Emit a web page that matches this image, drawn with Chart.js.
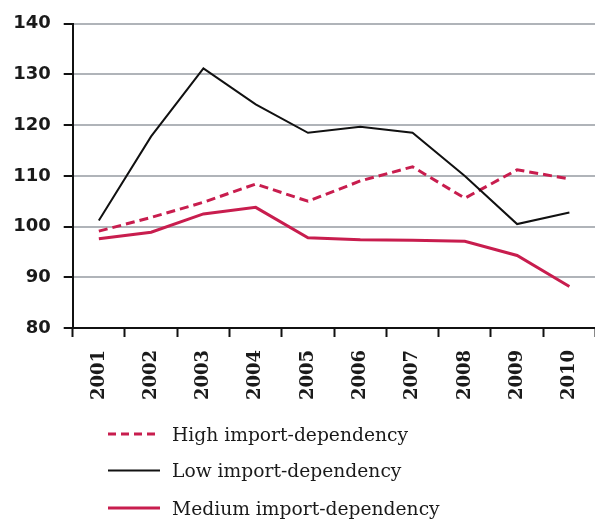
<!DOCTYPE html>
<html>
<head>
<meta charset="utf-8">
<script src="https://cdn.jsdelivr.net/npm/chart.js@4.4.1/dist/chart.umd.min.js"></script>
<style>
  html, body { margin: 0; padding: 0; background: #ffffff; overflow: hidden; }
  #wrap { position: relative; width: 604px; height: 520px; }
</style>
</head>
<body>
<div id="wrap"><canvas id="c"></canvas></div>
<script>
const years = ['2001','2002','2003','2004','2005','2006','2007','2008','2009','2010'];
const highImport = [99.1, 101.8, 104.8, 108.4, 105.0, 109.0, 111.8, 105.6, 111.2, 109.4];
const lowImport = [101.2, 117.8, 131.2, 124.1, 118.5, 119.7, 118.5, 110.0, 100.5, 102.8];
const mediumImport = [97.6, 98.9, 102.5, 103.8, 97.8, 97.4, 97.3, 97.1, 94.3, 88.2];
const seriesNames = ['High import-dependency', 'Low import-dependency', 'Medium import-dependency'];
const yTicks = [80, 90, 100, 110, 120, 130, 140];

const CRIMSON = '#c81d4e';

const legendPlugin = {
  id: 'stackedLegend',
  afterDraw(chart) {
    const ctx = chart.ctx;
    const rows = [434, 470.5, 508];
    ctx.save();
    chart.data.datasets.forEach((ds, i) => {
      const y = rows[i];
      ctx.beginPath();
      ctx.strokeStyle = ds.borderColor;
      ctx.lineWidth = ds.borderWidth;
      ctx.setLineDash(ds.borderDash && ds.borderDash.length ? [8, 5] : []);
      ctx.moveTo(108, y);
      ctx.lineTo(160, y);
      ctx.stroke();
      ctx.setLineDash([]);
      ctx.fillStyle = '#1a1a1a';
      ctx.font = '18.7px "DejaVu Serif"';
      ctx.textBaseline = 'middle';
      ctx.textAlign = 'left';
      ctx.fillText(ds.label, 172, y + 2);
    });
    ctx.restore();
  }
};

new Chart(document.getElementById('c'), {
  type: 'line',
  data: {
    labels: years,
    datasets: [
      { label: seriesNames[0], data: highImport, borderColor: CRIMSON, borderWidth: 3, borderDash: [9, 5], pointRadius: 0, tension: 0, fill: false, order: 2 },
      { label: seriesNames[1], data: lowImport, borderColor: '#111111', borderWidth: 2, pointRadius: 0, tension: 0, fill: false, order: 1 },
      { label: seriesNames[2], data: mediumImport, borderColor: CRIMSON, borderWidth: 3, pointRadius: 0, tension: 0, fill: false, order: 3 }
    ]
  },
  options: {
    responsive: true,
    maintainAspectRatio: false,
    animation: false,
    devicePixelRatio: 1,
    layout: { padding: { top: 12, left: 12, right: 0, bottom: 100 } },
    plugins: { legend: { display: false }, tooltip: { enabled: false } },
    scales: {
      x: {
        offset: true,
        grid: { offset: true, drawOnChartArea: false, tickColor: '#111111', tickLength: 9, tickWidth: 2 },
        border: { color: '#111111', width: 2 },
        ticks: {
          minRotation: 90, maxRotation: 90, padding: 13, color: '#1a1a1a',
          font: { family: '"DejaVu Serif"', size: 18, weight: 'bold' }
        },
        afterFit(scale) { scale.height = 92; }
      },
      y: {
        min: 80, max: 140,
        afterBuildTicks(scale) { scale.ticks = yTicks.map(v => ({ value: v })); },
        grid: { color: '#b0b4b9', lineWidth: 2, tickColor: '#111111', tickLength: 9, tickWidth: 2 },
        border: { color: '#111111', width: 2 },
        ticks: {
          padding: 13, color: '#1a1a1a',
          font: { family: '"DejaVu Sans"', size: 18, weight: 'bold' }
        },
        afterFit(scale) { scale.width = 60.7; }
      }
    }
  },
  plugins: [legendPlugin]
});
</script>
</body>
</html>
